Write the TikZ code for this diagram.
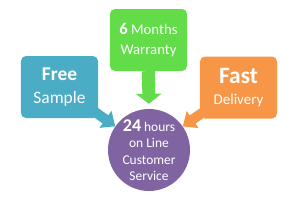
\documentclass[tikz,border=0pt]{standalone}
\usepackage{fontspec}
\setmainfont{Carlito}
\usetikzlibrary{arrows.meta}
\pgfdeclarelayer{bg}
\pgfsetlayers{bg,main}
\definecolor{cblue}{HTML}{4BACC6}
\definecolor{cgreen}{HTML}{62DC48}
\definecolor{corange}{HTML}{F79646}
\definecolor{cpurple}{HTML}{8064A2}
\begin{document}
\begin{tikzpicture}[x=1bp,y=-1bp,
  box/.style={rounded corners=5bp, minimum width=77bp, minimum height=62bp, inner sep=0pt, text=white, align=center},
  blockarrow/.style={line width=10bp, line cap=butt, -{Triangle[width=20bp,length=12bp]}}]
\useasboundingbox (0,0) rectangle (300,204);
\node[box, fill=cgreen, font=\fontsize{14.8}{20}\selectfont] (warranty) at (148.5,40)
  {{\fontsize{16.5}{20}\selectfont\bfseries 6} Months\\Warranty};
\node[box, fill=cblue, font=\fontsize{17.5}{23}\selectfont] (sample) at (59.5,87)
  {{\fontsize{19.5}{23}\selectfont\bfseries Free}\\Sample};
\node[box, fill=corange, font=\fontsize{15}{21}\selectfont] (delivery) at (238.5,87.5)
  {{\fontsize{23.5}{21}\selectfont\bfseries Fast}\\Delivery};
\node[circle, fill=cpurple, minimum size=82bp, inner sep=0pt, text=white, align=center, font=\fontsize{13.5}{16.5}\selectfont] (service) at (149,150)
  {{\fontsize{18}{16.5}\selectfont\bfseries 24} hours\\on Line\\Customer\\Service};
\begin{pgfonlayer}{bg}
  \draw[cgreen, line width=13bp, line cap=butt, -{Triangle[width=25bp,length=10bp]}, shorten >=5bp] (warranty.south) -- (service.north);
  \draw[cblue, blockarrow] (sample.center) -- (service);
  \draw[corange, blockarrow] (delivery.center) -- (service);
\end{pgfonlayer}
\end{tikzpicture}
\end{document}
